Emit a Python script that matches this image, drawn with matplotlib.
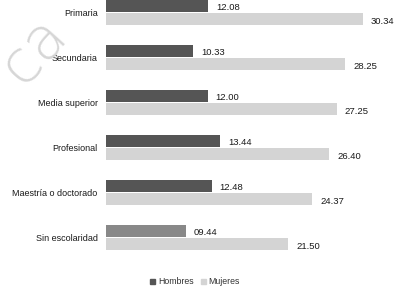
import matplotlib
matplotlib.use('Agg')
import matplotlib.pyplot as plt
from matplotlib.patches import Patch

plt.rcParams['font.family'] = ['Liberation Sans', 'DejaVu Sans']

# data
categorias = ['Primaria', 'Secundaria', 'Media superior', 'Profesional',
              'Maestría o doctorado', 'Sin escolaridad']
hombres = [12.08, 10.33, 12.00, 13.44, 12.48, 9.44]
mujeres = [30.34, 28.25, 27.25, 26.40, 24.37, 21.50]
etiq_hombres = ['12.08', '10.33', '12.00', '13.44', '12.48', '09.44']
etiq_mujeres = ['30.34', '28.25', '27.25', '26.40', '24.37', '21.50']

col_h = ['#555555', '#555555', '#555555', '#555555', '#555555', '#888888']
col_m = '#d4d4d4'

fig = plt.figure(figsize=(3.98, 2.93), dpi=100)
ax = fig.add_axes([106 / 398, 1 - 260 / 293, 292 / 398, 260 / 293])

# group layout in pixel-like units (top to bottom)
paso = 45
y_h = [6 + paso * i for i in range(len(categorias))]
y_m = [19 + paso * i for i in range(len(categorias))]

ax.barh(y_h, hombres, height=12, color=col_h)
ax.barh(y_m, mujeres, height=12, color=col_m)

for i in range(len(categorias)):
    ax.text(hombres[i] + 0.95, y_h[i] + 1.5, etiq_hombres[i], va='center', ha='left',
            fontsize=6.8, color='#1a1a1a')
    ax.text(mujeres[i] + 0.95, y_m[i] + 2.5, etiq_mujeres[i], va='center', ha='left',
            fontsize=6.8, color='#1a1a1a')

ax.set_yticks([12.5 + paso * i for i in range(len(categorias))])
ax.set_yticklabels(categorias, fontsize=6.5, color='#1a1a1a')
ax.tick_params(axis='y', length=0, pad=6)
ax.set_xticks([])
ax.set_xlim(0, 34.5)
ax.set_ylim(260, 0)
for s in ax.spines.values():
    s.set_visible(False)

# watermark fragment
fig.text(0.085, 0.83, 'ca', fontsize=42, rotation=48, color='#d6d6d6',
         fontweight='light', family='DejaVu Sans', ha='center', va='center', zorder=0)

handles = [Patch(color='#555555', label='Hombres'), Patch(color=col_m, label='Mujeres')]
fig.legend(handles=handles, loc='center', bbox_to_anchor=(0.49, 1 - 282 / 293),
           ncol=2, frameon=False, fontsize=6.3, handlelength=0.6, handleheight=0.6,
           handletextpad=0.3, columnspacing=0.8, labelcolor='#333333')

fig.savefig('out.png', dpi=100)
